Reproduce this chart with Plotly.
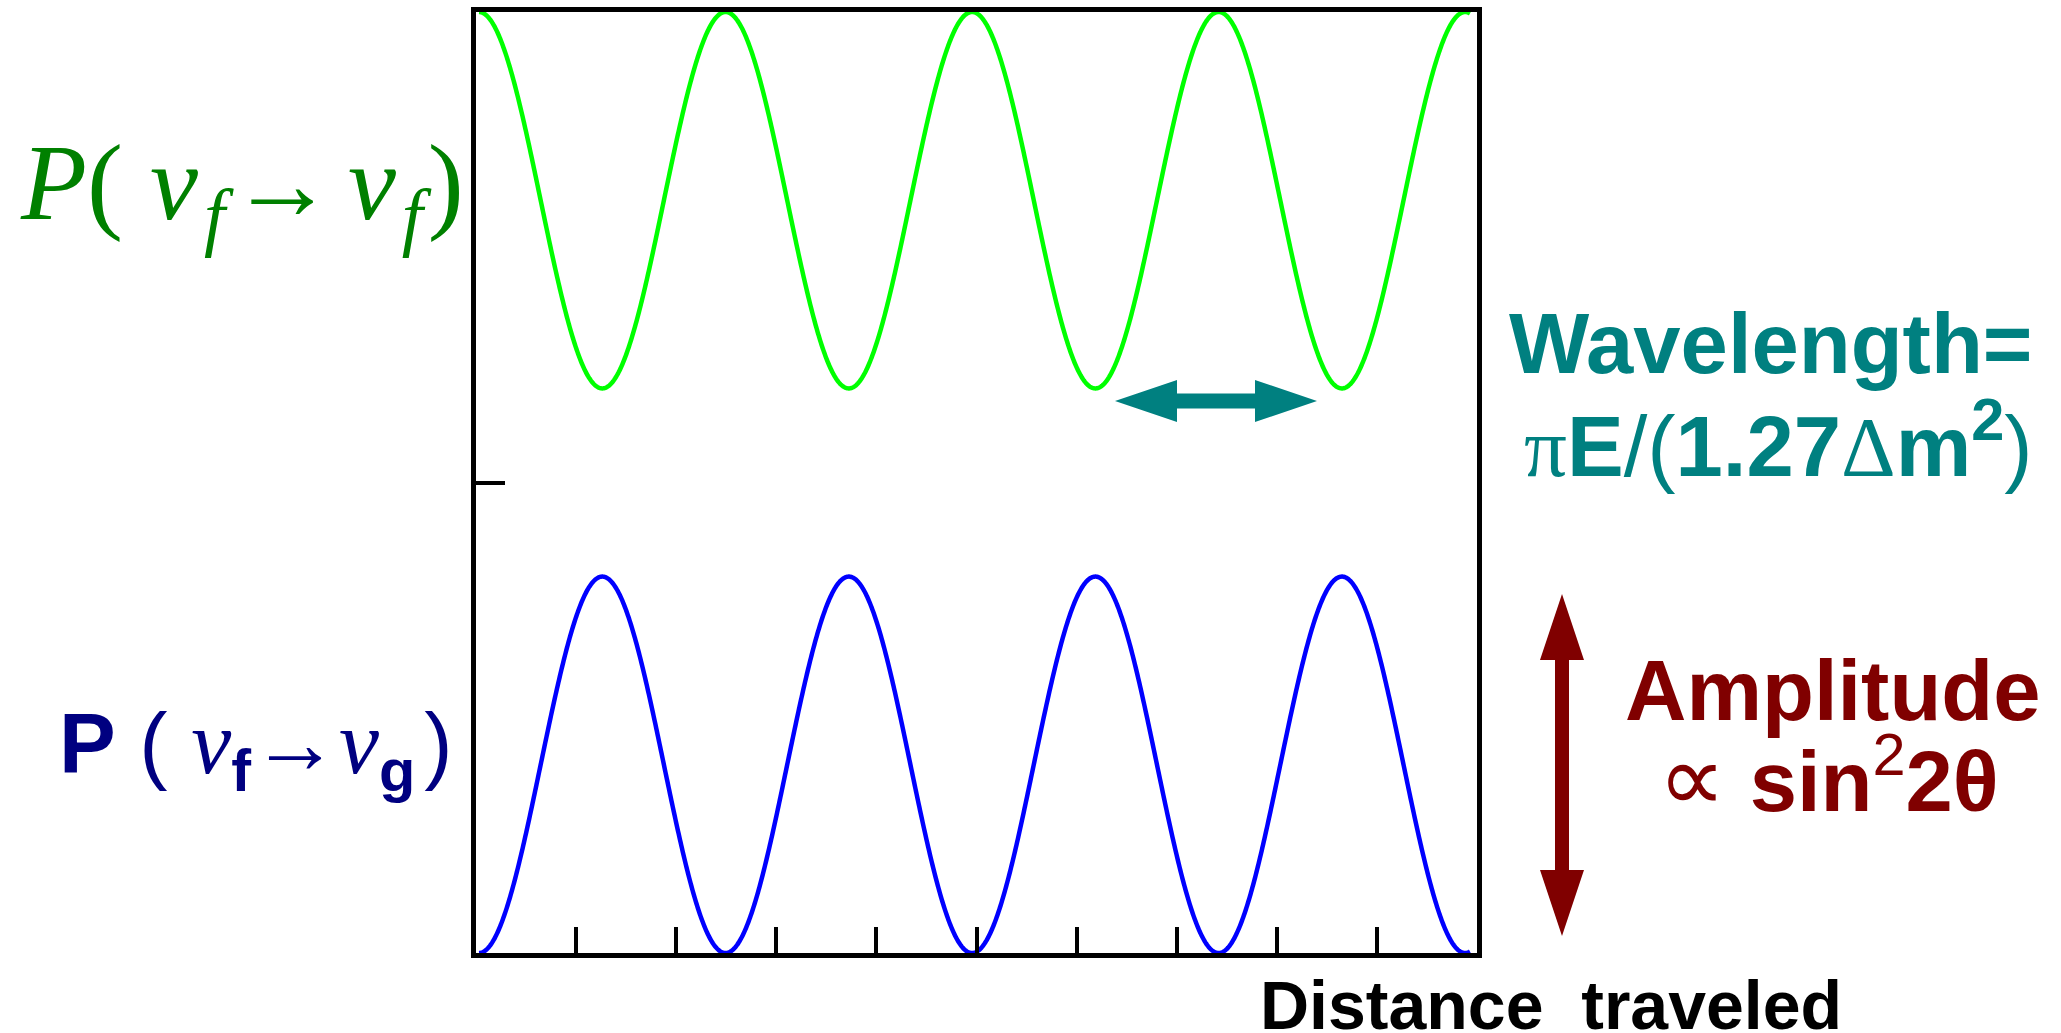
import numpy as np
import plotly.graph_objects as go

# ---------------- values ----------------
SIN2_2THETA = 0.80        # oscillation amplitude (sin^2 2θ)
OSC_WAVELENGTH = 2.463    # distance units per full oscillation
DIST_START = 0.03         # where the curves begin
DIST_END = 9.93           # where the curves end
SURVIVAL_OFFSET = 1.0     # survival curve drawn in the upper half
x_ticks = [1, 2, 3, 4, 5, 6, 7, 8, 9]
y_ticks = [1]
x_range = [0, 10]
y_range = [0, 2]

distance = np.linspace(DIST_START, DIST_END, 1500)
p_appear = SIN2_2THETA * np.sin(np.pi * (distance - DIST_START) / OSC_WAVELENGTH) ** 2
p_survive = SURVIVAL_OFFSET + (1.0 - p_appear)

# ---------------- geometry ----------------
W, H = 2061, 1033
ML, MR, MT, MB = 476, 584, 12, 80
PW, PH = W - ML - MR, H - MT - MB


def xp(px):
    return (px - ML) / PW


def yp(py):
    return (H - MB - py) / PH


SANS = "Liberation Sans, Arial, sans-serif"
SERIF = "Liberation Serif, Times New Roman, serif"

fig = go.Figure()
fig.add_trace(go.Scatter(x=distance, y=p_survive, mode="lines",
                         line=dict(color="#00ff00", width=4.5, simplify=False),
                         hoverinfo="skip"))
fig.add_trace(go.Scatter(x=distance, y=p_appear, mode="lines",
                         line=dict(color="#0000ff", width=4.5, simplify=False),
                         hoverinfo="skip"))


def arrow_shape(x1, y1, x2, y2, head_len, head_w, shaft_w, color):
    p1 = np.array([x1, y1], float)
    p2 = np.array([x2, y2], float)
    d = p2 - p1
    u = d / np.hypot(*d)
    n = np.array([-u[1], u[0]])
    a = p1 + u * head_len
    b = p2 - u * head_len
    pts = [p1,
           a + n * head_w / 2, a + n * shaft_w / 2,
           b + n * shaft_w / 2, b + n * head_w / 2,
           p2,
           b - n * head_w / 2, b - n * shaft_w / 2,
           a - n * shaft_w / 2, a - n * head_w / 2]
    path = "M " + " L ".join(f"{xp(p[0]):.5f},{yp(p[1]):.5f}" for p in pts) + " Z"
    return dict(type="path", path=path, xref="paper", yref="paper",
                fillcolor=color, line=dict(width=0), layer="above")


shapes = [
    arrow_shape(1115, 401, 1317, 401, 62, 42, 15, "#008080"),
    arrow_shape(1562, 594, 1562, 936, 66, 44, 14, "#800000"),
]


def ann(text, x, y, xanchor, size, color, family, yanchor="middle"):
    return dict(text=text, x=xp(x), y=yp(y), xref="paper", yref="paper",
                xanchor=xanchor, yanchor=yanchor, showarrow=False,
                font=dict(size=size, color=color, family=family), align=xanchor)


def gap(px):
    # a plain space scaled to give a small horizontal gap
    return f"<span style='font-size:{px * 4}px'> </span>"


ser = f"font-family:{SERIF}"
annotations = [
    ann(f"<i>P</i>( <i>ν</i>{gap(6)}<sub><i>f</i></sub>{gap(5)}"
        f"<span style='font-size:104px'>→</span>{gap(14)}<i>ν</i>{gap(6)}"
        f"<sub><i>f</i></sub>{gap(5)})",
        466, 190, "right", 108, "#008000", SERIF),
    ann(f"<b>P</b> ( <span style='{ser};font-size:90px'><i>ν</i></span><sub><b>f</b></sub>"
        f"<span style='{ser};font-size:88px'>→</span>"
        f"<span style='{ser};font-size:90px'><i>ν</i></span><sub><b>g</b></sub>{gap(8)})",
        455, 748, "right", 85, "#000080", SANS),
    ann("<b>Wavelength=</b>", 2035, 344, "right", 85, "#008080", SANS),
    ann(f"<span style='{ser}'>π</span><b>E</b>/(<b>1.27</b>"
        f"<span style='{ser}'>Δ</span><b>m</b><sup><b>2</b></sup>)",
        2035, 440, "right", 85, "#008080", SANS),
    ann("<b>Amplitude</b>", 1833, 690, "center", 85, "#800000", SANS),
    ann(f"<span style='{ser};font-size:95px'>∝</span> <b>sin</b><sup>2</sup><b>2θ</b>",
        1828, 776, "center", 85, "#800000", SANS),
    ann("<b>Distance  traveled</b>", 1551, 1005, "center", 68, "#000000", SANS),
]

fig.update_layout(
    width=W, height=H,
    margin=dict(l=ML, r=MR, t=MT, b=MB, autoexpand=False),
    paper_bgcolor="white", plot_bgcolor="white",
    showlegend=False,
    shapes=shapes,
    annotations=annotations,
    xaxis=dict(range=x_range, tickvals=x_ticks, ticks="inside", ticklen=26,
               tickwidth=4, tickcolor="black", showticklabels=False,
               showgrid=False, zeroline=False, showline=True, linewidth=5,
               linecolor="black", mirror=True, fixedrange=True),
    yaxis=dict(range=y_range, tickvals=y_ticks, ticks="inside", ticklen=29,
               tickwidth=4, tickcolor="black", showticklabels=False,
               showgrid=False, zeroline=False, showline=True, linewidth=5,
               linecolor="black", mirror=True, fixedrange=True),
)

fig.write_html("out.html", config={"displayModeBar": False})
